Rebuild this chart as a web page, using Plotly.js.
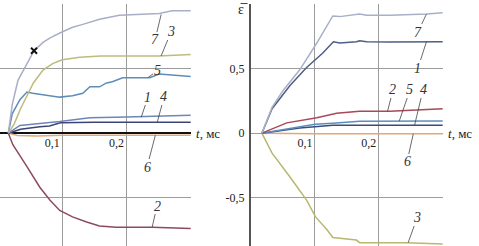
<!DOCTYPE html>
<html><head><meta charset="utf-8">
<script src="https://cdn.plot.ly/plotly-3.0.1.min.js"></script>
<style>html,body{margin:0;padding:0;background:#fff}#c{width:479px;height:246px}</style>
</head><body><div id="c"></div>
<script>
// ---- data: left panel ----
const L7t = [0.016, 0.022, 0.031, 0.042, 0.056, 0.07, 0.081, 0.097, 0.115, 0.132, 0.158, 0.189, 0.22, 0.251, 0.271, 0.3];
const L7v = [0, 0.22, 0.41, 0.51, 0.64, 0.705, 0.74, 0.78, 0.82, 0.845, 0.885, 0.915, 0.925, 0.93, 0.95, 0.95];
const L3t = [0.016, 0.025, 0.035, 0.045, 0.055, 0.07, 0.085, 0.1, 0.127, 0.16, 0.2, 0.25, 0.3];
const L3v = [0, 0.07, 0.19, 0.29, 0.39, 0.49, 0.54, 0.57, 0.59, 0.6, 0.6, 0.6, 0.61];
const L5t = [0.016, 0.022, 0.034, 0.045, 0.054, 0.081, 0.096, 0.116, 0.132, 0.143, 0.158, 0.169, 0.178, 0.194, 0.22, 0.236, 0.251, 0.271, 0.3];
const L5v = [0, 0.15, 0.26, 0.32, 0.31, 0.29, 0.28, 0.29, 0.31, 0.36, 0.36, 0.39, 0.40, 0.43, 0.43, 0.43, 0.46, 0.45, 0.44];
const L1t = [0.016, 0.034, 0.065, 0.096, 0.143, 0.2, 0.3];
const L1v = [0, 0.06, 0.075, 0.09, 0.12, 0.125, 0.14];
const L4t = [0.016, 0.035, 0.065, 0.08, 0.097, 0.15, 0.3];
const L4v = [0, 0.03, 0.05, 0.055, 0.08, 0.085, 0.085];
const L6t = [0.016, 0.03, 0.06, 0.1, 0.2, 0.3];
const L6v = [0, -0.018, -0.022, -0.016, -0.016, -0.016];
const L2t = [0.016, 0.023, 0.045, 0.065, 0.081, 0.096, 0.116, 0.138, 0.158, 0.184, 0.209, 0.24, 0.3];
const L2v = [0, -0.09, -0.26, -0.42, -0.52, -0.60, -0.65, -0.69, -0.72, -0.73, -0.73, -0.73, -0.74];
const markT = [0.056];
const markV = [0.64];
// ---- data: right panel ----
const R7t = [0.017, 0.033, 0.05, 0.076, 0.103, 0.128, 0.139, 0.159, 0.17, 0.181, 0.217, 0.275, 0.3];
const R7v = [0, 0.20, 0.33, 0.49, 0.70, 0.91, 0.905, 0.915, 0.925, 0.915, 0.915, 0.925, 0.935];
const R1t = [0.017, 0.033, 0.061, 0.087, 0.112, 0.129, 0.139, 0.165, 0.17, 0.181, 0.217, 0.3];
const R1v = [0, 0.19, 0.37, 0.51, 0.62, 0.71, 0.70, 0.71, 0.718, 0.71, 0.708, 0.71];
const R2t = [0.017, 0.056, 0.103, 0.134, 0.17, 0.217, 0.259, 0.3];
const R2v = [0, 0.08, 0.12, 0.155, 0.17, 0.17, 0.18, 0.19];
const R5t = [0.017, 0.076, 0.1, 0.128, 0.17, 0.3];
const R5v = [0, 0.047, 0.07, 0.078, 0.093, 0.095];
const R4t = [0.017, 0.076, 0.128, 0.17, 0.3];
const R4v = [0, 0.04, 0.062, 0.062, 0.062];
const R6t = [0.017, 0.1, 0.2, 0.3];
const R6v = [0, -0.005, -0.005, -0.005];
const R3t = [0.017, 0.033, 0.061, 0.087, 0.101, 0.119, 0.128, 0.15, 0.165, 0.17, 0.201, 0.243, 0.3];
const R3v = [0, -0.155, -0.34, -0.52, -0.65, -0.75, -0.81, -0.82, -0.83, -0.85, -0.85, -0.85, -0.86];
// tick labels
const xTickVals = [0.1, 0.2, 0.3];
const xTickText = ['0,1', '0,2', ''];
const yTickVals = [-0.5, 0, 0.5, 1.0];
const yTickText = ['-0,5', '0', '0,5', ''];

// ---- styling / layout ----
const W = 479, H = 246;
const yMin = -0.876, yMax = 1.003;
const yDom = [0, (H - 4) / H];
const zeroPos = yDom[0] + (0 - yMin) / (yMax - yMin) * (yDom[1] - yDom[0]);
const serif = 'Liberation Serif';

function line(x, y, color, ax, w) {
  return {x: x, y: y, type: 'scatter', mode: 'lines', xaxis: ax[0], yaxis: ax[1],
          line: {color: color, width: w || 1.5}, hoverinfo: 'skip', showlegend: false};
}
const A1 = ['x', 'y'], A2 = ['x2', 'y2'];
const traces = [
  line(L6t, L6v, '#e2a878', A1, 1.3),
  line(L2t, L2v, '#8e4a5c', A1),
  line(L4t, L4v, '#3d4576', A1),
  line(L1t, L1v, '#6d86b8', A1),
  line(L5t, L5v, '#5f8db5', A1),
  line(L3t, L3v, '#bcbc7c', A1),
  line(L7t, L7v, '#a9aec6', A1),
  {x: markT, y: markV, type: 'scatter', mode: 'markers', xaxis: 'x', yaxis: 'y',
   marker: {symbol: 'x-thin-open', size: 6, color: '#111', line: {width: 2, color: '#111'}}, showlegend: false, hoverinfo: 'skip'},
  line(R6t, R6v, '#e2a878', A2),
  line(R3t, R3v, '#b8b870', A2),
  line(R4t, R4v, '#3a4a7a', A2),
  line(R5t, R5v, '#5a8ec0', A2),
  line(R2t, R2v, '#a8485a', A2),
  line(R1t, R1v, '#4e5e84', A2),
  line(R7t, R7v, '#a8b0c8', A2)
];

const tickFont = {family: serif, size: 12, color: '#222'};
const grid = '#9c9c9c';
function xAx(dom, r) {
  return {domain: dom, range: r, anchor: 'free', position: zeroPos, tickvals: xTickVals, ticktext: xTickText,
          showgrid: true, gridcolor: grid, gridwidth: 1, zeroline: false, showline: false, ticks: '',
          ticklabelshift: -10, ticklabelstandoff: 1, tickfont: tickFont, fixedrange: true};
}
// label positions: [panel, name, textPx, textPy, targetT, targetV]
const labelPos = [
  ['x', '7', 155, 40, 0.254, 0.922], ['x', '3', 171, 32, 0.254, 0.60], ['x', '5', 157, 71, 0.234, 0.434],
  ['x', '1', 148, 97, 0.223, 0.124], ['x', '4', 164, 97, 0.248, 0.085], ['x', '6', 147, 167, 0.245, -0.016],
  ['x', '2', 157, 206, 0.240, -0.73],
  ['x2', '7', 418, 32, 0.2746, 0.925], ['x2', '1', 418, 68, 0.2746, 0.71], ['x2', '2', 393, 90, 0.2137, 0.17],
  ['x2', '5', 410, 90, 0.232, 0.094], ['x2', '4', 423, 90, 0.256, 0.062], ['x2', '6', 407, 162, 0.254, -0.005],
  ['x2', '3', 417, 218, 0.246, -0.85]
];
const xMaps = {x: {p0: 0, p1: 191, r0: 0.003, r1: 0.3005}, x2: {p0: 251, p1: 443, r0: 0, r1: 0.3005}};
function toPx(ax, t, v) {
  const m = xMaps[ax];
  const px = m.p0 + (t - m.r0) / (m.r1 - m.r0) * (m.p1 - m.p0);
  const py = 4 + (yMax - v) / (yMax - yMin) * (242);
  return [px, py];
}
const annotations = labelPos.map(l => {
  const p = toPx(l[0], l[4], l[5]);
  return {xref: l[0], yref: l[0] === 'x' ? 'y' : 'y2', x: l[4], y: l[5], text: '<i>' + l[1] + '</i>',
          showarrow: true, arrowhead: 0, arrowwidth: 0.8, arrowcolor: '#444', ax: l[2] - p[0], ay: l[3] - p[1],
          font: {family: serif, size: 14, color: '#333'}, borderpad: 0};
});
annotations.push({xref: 'paper', yref: 'paper', x: 194 / W, y: zeroPos, xanchor: 'left', yanchor: 'middle',
  text: '<i>t</i>, мс', showarrow: false, font: {family: serif, size: 13, color: '#222'}});
annotations.push({xref: 'paper', yref: 'paper', x: 446 / W, y: zeroPos, xanchor: 'left', yanchor: 'middle',
  text: '<i>t</i>, мс', showarrow: false, font: {family: serif, size: 13, color: '#222'}});
annotations.push({xref: 'paper', yref: 'paper', x: 243 / W, y: (H - 9) / H, xanchor: 'center', yanchor: 'middle',
  text: 'ε\u0305', showarrow: false, font: {family: serif, size: 14, color: '#222'}});

const layout = {
  width: W, height: H, margin: {l: 0, r: 0, t: 0, b: 0}, paper_bgcolor: '#fff', plot_bgcolor: 'rgba(0,0,0,0)',
  showlegend: false,
  xaxis: xAx([0, 191 / W], [0.003, 0.3005]),
  xaxis2: xAx([251 / W, 443 / W], [0, 0.3005]),
  yaxis: {domain: yDom, range: [yMin, yMax], anchor: 'x', tickvals: yTickVals, showticklabels: false,
          showgrid: true, gridcolor: grid, zeroline: true, zerolinecolor: '#111', zerolinewidth: 1.6, ticks: '', fixedrange: true},
  yaxis2: {domain: yDom, range: [yMin, yMax], anchor: 'x2', tickvals: yTickVals, ticktext: yTickText,
           showgrid: true, gridcolor: grid, zeroline: false, showline: true, linecolor: '#555', linewidth: 2,
           ticks: '', ticklabelstandoff: 2, tickfont: tickFont, fixedrange: true},
  annotations: annotations
};
Plotly.newPlot('c', traces, layout, {staticPlot: true, displayModeBar: false});
</script></body></html>
